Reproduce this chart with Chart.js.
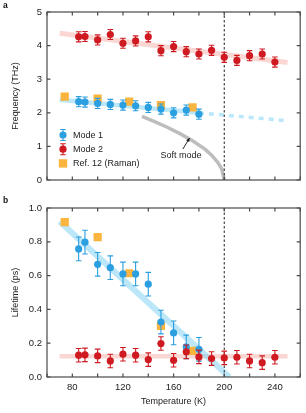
<!DOCTYPE html>
<html>
<head>
<meta charset="utf-8">
<script src="https://cdn.jsdelivr.net/npm/chart.js@4.4.1/dist/chart.umd.min.js"></script>
<style>
  html, body { margin: 0; padding: 0; background: #fff; }
  #wrap { position: relative; width: 306px; height: 413px; }
  #wrap canvas { position: absolute; left: 0; }
  #chartA { top: 0; }
  #chartB { top: 195px; }
</style>
</head>
<body>
<div id="wrap">
  <canvas id="chartA" width="306" height="195"></canvas>
  <canvas id="chartB" width="306" height="218"></canvas>
</div>
<script>
// ========== Data ==========
const temps = [85, 90, 100, 110, 120, 130, 140, 150, 160, 170, 180, 190, 200, 210, 220, 230, 240];
const mode1Temps = [85, 90, 100, 110, 120, 130, 140, 150, 160, 170, 180];
const ramanTemps = [74, 100, 125, 150, 175];

// panel a: frequency (THz)
const mode1Freq = [2.33, 2.32, 2.28, 2.25, 2.23, 2.21, 2.16, 2.11, 2.00, 2.08, 1.96];
const mode1FreqErr = [0.15, 0.15, 0.15, 0.15, 0.15, 0.15, 0.15, 0.15, 0.15, 0.15, 0.15];
const mode2Freq = [4.26, 4.27, 4.17, 4.33, 4.07, 4.14, 4.26, 3.85, 3.97, 3.82, 3.75, 3.86, 3.65, 3.56, 3.70, 3.75, 3.51];
const mode2FreqErr = [0.15, 0.15, 0.15, 0.15, 0.15, 0.15, 0.15, 0.15, 0.15, 0.15, 0.15, 0.15, 0.15, 0.15, 0.15, 0.15, 0.15];
const ramanFreq = [2.48, 2.42, 2.33, 2.23, 2.16];

const mode2FitT = [70, 250];
const mode2FitFreq = [4.37, 3.50];
const mode1FitT = [70, 180];
const mode1FitFreq = [2.39, 2.00];
const mode1ExtT = [180, 248];
const mode1ExtFreq = [2.00, 1.77];
const softT = [135, 145, 155, 165, 175, 185, 190, 195, 198, 200];
const softFreq = [1.89, 1.74, 1.57, 1.38, 1.17, 0.91, 0.74, 0.52, 0.33, 0];

// panel b: lifetime (ps)
const mode1Life = [0.758, 0.798, 0.667, 0.647, 0.61, 0.61, 0.549, 0.325, 0.261, 0.178, 0.164];
const mode1LifeErr = [0.07, 0.07, 0.07, 0.07, 0.07, 0.07, 0.07, 0.07, 0.07, 0.07, 0.07];
const mode2Life = [0.129, 0.131, 0.125, 0.095, 0.135, 0.129, 0.103, 0.198, 0.099, 0.149, 0.119, 0.109, 0.113, 0.117, 0.095, 0.085, 0.117];
const mode2LifeErr = [0.04, 0.04, 0.04, 0.04, 0.04, 0.04, 0.04, 0.04, 0.04, 0.04, 0.04, 0.04, 0.04, 0.04, 0.04, 0.04, 0.04];
const ramanLife = [0.917, 0.828, 0.614, 0.303, 0.154];

const mode1LifeFitT = [70, 204];
const mode1LifeFit = [0.92, 0];
const mode2LifeFitT = [70, 250];
const mode2LifeFit = [0.123, 0.123];

const transitionT = 200;
const freqTicks = [0, 5, 1];
const lifeTicks = [0, 1, 0.2];

// ========== Styles ==========
const BLUE = '#2b9fe0';
const RED = '#cf1a22';
const ORANGE = '#fbb43e';
const BLUE_FIT = 'rgba(120, 208, 242, 0.5)';
const RED_FIT = 'rgba(242, 150, 140, 0.38)';
const FONT = "'Liberation Sans', Arial, sans-serif";
const TXT = '#222';

const pts = (xs, ys) => xs.map((x, i) => ({ x: x, y: ys[i] }));

function pointSet(label, xs, ys, errs, color) {
  return {
    label: label, data: pts(xs, ys), errors: errs,
    backgroundColor: color, borderColor: color, borderWidth: 0,
    pointRadius: 3.6, pointHoverRadius: 3.6
  };
}
function squareSet(xs, ys) {
  return {
    label: 'Ref. 12 (Raman)', data: pts(xs, ys),
    pointStyle: 'rect', pointRadius: 5.8, pointHoverRadius: 5.8,
    backgroundColor: ORANGE, borderWidth: 0
  };
}
function lineSet(xs, ys, color, width, dash) {
  return {
    data: pts(xs, ys), showLine: true, pointRadius: 0, pointHoverRadius: 0,
    borderColor: color, borderWidth: width, borderDash: dash || [], clip: 0
  };
}

// ========== Plugins ==========
const errorBars = {
  id: 'errorBars',
  beforeDatasetDraw(chart, args) {
    const ds = chart.data.datasets[args.index];
    if (!ds.errors) return;
    const { ctx, scales: { x, y } } = chart;
    ctx.save();
    ctx.strokeStyle = ds.borderColor;
    ctx.lineWidth = 1.1;
    ds.data.forEach((p, i) => {
      const px = x.getPixelForValue(p.x);
      const top = y.getPixelForValue(p.y + ds.errors[i]);
      const bot = y.getPixelForValue(p.y - ds.errors[i]);
      ctx.beginPath();
      ctx.moveTo(px, top); ctx.lineTo(px, bot);
      ctx.moveTo(px - 2.8, top); ctx.lineTo(px + 2.8, top);
      ctx.moveTo(px - 2.8, bot); ctx.lineTo(px + 2.8, bot);
      ctx.stroke();
    });
    ctx.restore();
  }
};

// box around the plot with inward ticks on all four sides
const frame = {
  id: 'frame',
  afterDatasetsDraw(chart) {
    const { ctx, chartArea: a, scales: { x, y } } = chart;
    ctx.save();
    ctx.strokeStyle = '#4a4a4a';
    ctx.lineWidth = 1.2;
    ctx.strokeRect(a.left, a.top, a.right - a.left, a.bottom - a.top);
    ctx.beginPath();
    x.ticks.forEach(t => {
      const px = x.getPixelForValue(t.value);
      ctx.moveTo(px, a.bottom); ctx.lineTo(px, a.bottom - 3.5);
      ctx.moveTo(px, a.top); ctx.lineTo(px, a.top + 3.5);
    });
    y.ticks.forEach(t => {
      const py = y.getPixelForValue(t.value);
      ctx.moveTo(a.left, py); ctx.lineTo(a.left + 3.5, py);
      ctx.moveTo(a.right, py); ctx.lineTo(a.right - 3.5, py);
    });
    ctx.stroke();
    ctx.restore();
  }
};

const panelLetter = {
  id: 'panelLetter',
  afterDraw(chart, args, opts) {
    const ctx = chart.ctx;
    ctx.save();
    ctx.font = 'bold 8.5px ' + FONT;
    ctx.fillStyle = '#111';
    ctx.textBaseline = 'middle';
    ctx.fillText(opts.text, 3, opts.y);
    ctx.restore();
  }
};

// legend and "Soft mode" label for panel a
const legendA = {
  id: 'legendA',
  afterDraw(chart) {
    const { ctx, scales: { x, y } } = chart;
    const items = [
      { label: 'Mode 1', color: BLUE, square: false },
      { label: 'Mode 2', color: RED, square: false },
      { label: 'Ref. 12 (Raman)', color: ORANGE, square: true }
    ];
    ctx.save();
    ctx.font = '9px ' + FONT;
    ctx.textBaseline = 'middle';
    items.forEach((it, i) => {
      const cx = 63, cy = 135 + i * 14.2;
      if (it.square) {
        ctx.fillStyle = it.color;
        ctx.fillRect(cx - 4.2, cy - 4.2, 8.4, 8.4);
      } else {
        ctx.strokeStyle = it.color;
        ctx.lineWidth = 1.1;
        ctx.beginPath();
        ctx.moveTo(cx, cy - 5.5); ctx.lineTo(cx, cy + 5.5);
        ctx.moveTo(cx - 2.8, cy - 5.5); ctx.lineTo(cx + 2.8, cy - 5.5);
        ctx.moveTo(cx - 2.8, cy + 5.5); ctx.lineTo(cx + 2.8, cy + 5.5);
        ctx.stroke();
        ctx.fillStyle = it.color;
        ctx.beginPath();
        ctx.arc(cx, cy, 3.6, 0, Math.PI * 2);
        ctx.fill();
      }
      ctx.fillStyle = TXT;
      ctx.fillText(it.label, 73, cy + 0.5);
    });

    // Soft mode label with arrow
    ctx.textAlign = 'center';
    ctx.fillText('Soft mode', x.getPixelForValue(165.8), y.getPixelForValue(0.72));
    const x0 = x.getPixelForValue(167.3), y0 = y.getPixelForValue(0.92);
    const x1 = x.getPixelForValue(172.6), y1 = y.getPixelForValue(1.25);
    ctx.strokeStyle = '#111';
    ctx.lineWidth = 0.9;
    ctx.beginPath();
    ctx.moveTo(x0, y0); ctx.lineTo(x1, y1);
    ctx.stroke();
    const ang = Math.atan2(y1 - y0, x1 - x0);
    ctx.fillStyle = '#111';
    ctx.beginPath();
    ctx.moveTo(x1, y1);
    ctx.lineTo(x1 - 4 * Math.cos(ang - 0.45), y1 - 4 * Math.sin(ang - 0.45));
    ctx.lineTo(x1 - 4 * Math.cos(ang + 0.45), y1 - 4 * Math.sin(ang + 0.45));
    ctx.closePath();
    ctx.fill();
    ctx.restore();
  }
};

// ========== Shared options ==========
function makeOptions(cfg) {
  return {
    responsive: false,
    animation: false,
    events: [],
    layout: { padding: { top: cfg.padTop, right: 3, left: 0, bottom: 0 } },
    plugins: {
      legend: { display: false },
      tooltip: { enabled: false },
      panelLetter: { text: cfg.letter, y: cfg.letterY }
    },
    scales: {
      x: {
        type: 'linear', min: 60, max: 260,
        grid: { display: false, drawTicks: false },
        border: { display: false },
        ticks: {
          stepSize: 20, autoSkip: false, maxRotation: 0, display: cfg.showX, padding: 5,
          color: TXT, font: { family: FONT, size: 9.5 },
          callback: v => (v % 40 === 0 ? v : '')
        },
        title: {
          display: cfg.showX, text: 'Temperature (K)', color: TXT,
          font: { family: FONT, size: 9 }, padding: { top: 0, bottom: 6 }
        },
        afterFit: s => { s.height = cfg.xHeight; }
      },
      y: {
        type: 'linear', min: cfg.yTicks[0], max: cfg.yTicks[1],
        grid: { display: false, drawTicks: false },
        border: { display: false },
        ticks: {
          stepSize: cfg.yTicks[2], padding: 5, color: TXT,
          font: { family: FONT, size: 9.5 }, callback: cfg.yFmt
        },
        title: {
          display: true, text: cfg.yTitle, color: TXT,
          font: { family: FONT, size: 9 }, padding: { top: 10, bottom: 0 }
        },
        afterFit: s => { s.width = 47; }
      }
    }
  };
}

// ========== Panel a: frequency ==========
new Chart(document.getElementById('chartA'), {
  type: 'scatter',
  data: {
    datasets: [
      pointSet('Mode 2', temps, mode2Freq, mode2FreqErr, RED),
      pointSet('Mode 1', mode1Temps, mode1Freq, mode1FreqErr, BLUE),
      squareSet(ramanTemps, ramanFreq),
      lineSet([transitionT, transitionT], [freqTicks[0], freqTicks[1]], '#222', 1, [2.5, 2]),
      lineSet(softT, softFreq, '#bdbdbd', 3.5),
      lineSet(mode1ExtT, mode1ExtFreq, 'rgba(140, 215, 245, 0.6)', 3.5, [5, 5]),
      lineSet(mode1FitT, mode1FitFreq, BLUE_FIT, 4.5),
      lineSet(mode2FitT, mode2FitFreq, RED_FIT, 5)
    ]
  },
  options: makeOptions({
    padTop: 12, letter: 'a', letterY: 6, showX: false, xHeight: 15,
    yTicks: freqTicks, yTitle: 'Frequency (THz)', yFmt: v => v
  }),
  plugins: [errorBars, frame, panelLetter, legendA]
});

// ========== Panel b: lifetime ==========
new Chart(document.getElementById('chartB'), {
  type: 'scatter',
  data: {
    datasets: [
      pointSet('Mode 2', temps, mode2Life, mode2LifeErr, RED),
      pointSet('Mode 1', mode1Temps, mode1Life, mode1LifeErr, BLUE),
      squareSet(ramanTemps, ramanLife),
      lineSet([transitionT, transitionT], [lifeTicks[0], lifeTicks[1]], '#222', 1, [2.5, 2]),
      lineSet(mode1LifeFitT, mode1LifeFit, BLUE_FIT, 6),
      lineSet(mode2LifeFitT, mode2LifeFit, RED_FIT, 4.5)
    ]
  },
  options: makeOptions({
    padTop: 13, letter: 'b', letterY: 6, showX: true, xHeight: 36,
    yTicks: lifeTicks, yTitle: 'Lifetime (ps)', yFmt: v => v.toFixed(1)
  }),
  plugins: [errorBars, frame, panelLetter]
});
</script>
</body>
</html>
